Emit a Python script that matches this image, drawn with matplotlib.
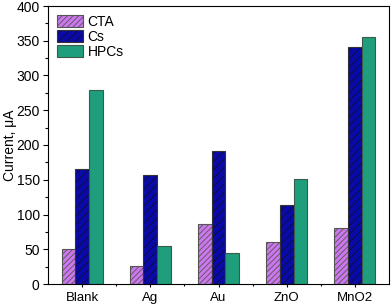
import matplotlib
matplotlib.use("Agg")
import matplotlib.pyplot as plt
import numpy as np
from matplotlib.ticker import MultipleLocator, FixedLocator

plt.rcParams['font.family'] = ['Liberation Sans', 'DejaVu Sans']
plt.rcParams['hatch.linewidth'] = 0.6

categories = ["Blank", "Ag", "Au", "ZnO", "MnO2"]
cta = [50, 26, 87, 61, 81]
cs = [166, 157, 192, 113, 341]
hpcs = [279, 55, 44, 151, 355]

fig = plt.figure(figsize=(3.92, 3.06), dpi=100)
ax = fig.add_axes([48 / 392, 22 / 306, 341 / 392, 278 / 306])

x = np.arange(len(categories))
w = 0.2
plt.rcParams['hatch.color'] = '#7a2a9a'
ax.bar(x - w, cta, w, color='#cc77ee', edgecolor='#555555', linewidth=0.8,
       hatch='//////', label='CTA')
ax.bar(x, cs, w, color='#0a0aa8', edgecolor='#333333', linewidth=0.8,
       hatch='////', label='Cs')
ax.bar(x + w, hpcs, w, color='#1f9e7c', edgecolor='#3a5a4a', linewidth=0.8,
       label='HPCs')

# darker hatch on the Cs bars
for p in ax.containers[1]:
    p._hatch_color = (0.05, 0.05, 0.2, 1)

ax.set_xlim(-0.5, 4.5)
ax.set_ylim(0, 400)
ax.set_xticks(x)
ax.set_xticklabels(categories)
ax.xaxis.set_minor_locator(FixedLocator(x[:-1] + 0.5))
ax.yaxis.set_major_locator(MultipleLocator(50))
ax.yaxis.set_minor_locator(MultipleLocator(25))
ax.tick_params(axis='y', which='major', direction='out', length=3.5, width=0.8,
               labelsize=10, pad=2.5)
ax.tick_params(axis='y', which='minor', direction='out', length=2, width=0.8)
ax.tick_params(axis='x', which='major', direction='out', length=2.5, width=0.8,
               labelsize=9.5, pad=3.5)
ax.tick_params(axis='x', which='minor', direction='out', length=1.5, width=0.8)
ax.set_ylabel("Current, \u03bcA", fontsize=10, va='center')
ax.yaxis.set_label_coords(-0.112, 0.5)
for s in ax.spines.values():
    s.set_linewidth(0.8)

ax.legend(loc='upper left', frameon=False, fontsize=10, handlelength=1.9,
          handleheight=0.95, labelspacing=0.08, handletextpad=0.3,
          borderpad=0, borderaxespad=0, bbox_to_anchor=(0.026, 0.968))

fig.savefig("out.png", dpi=100)
